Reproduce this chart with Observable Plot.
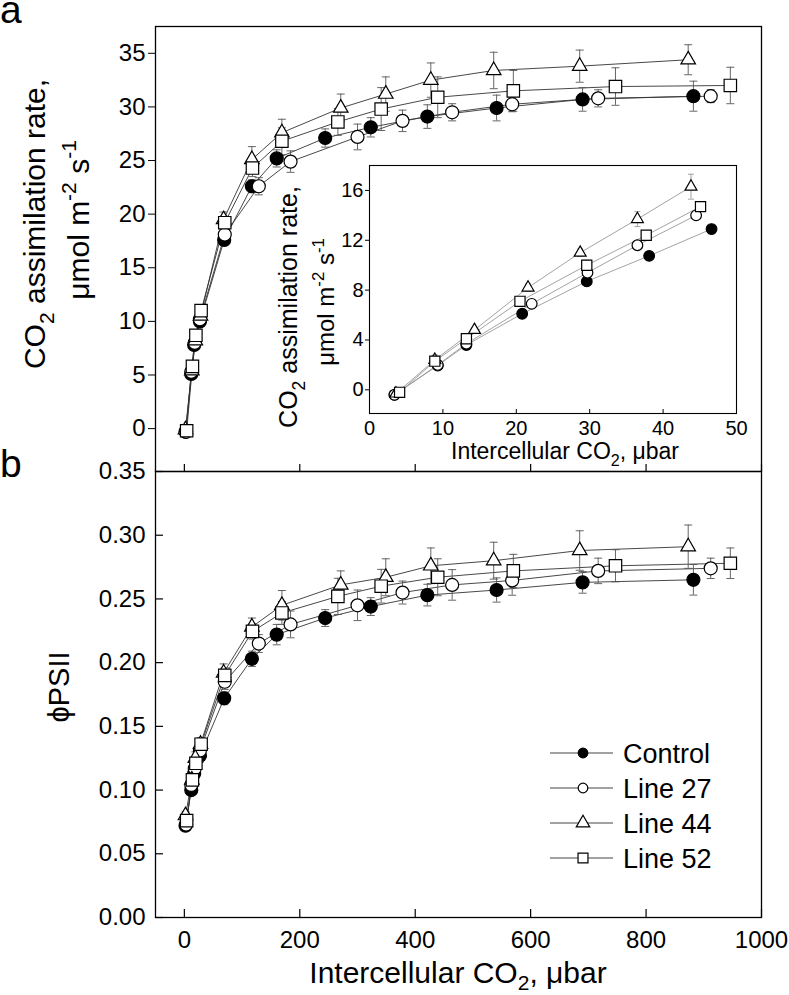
<!DOCTYPE html>
<html><head><meta charset="utf-8">
<script src="https://cdn.jsdelivr.net/npm/d3@7"></script>
<script src="https://cdn.jsdelivr.net/npm/@observablehq/plot@0.6"></script>
<style>
body{margin:0;background:white;}
#wrap{position:relative;width:789px;height:995px;overflow:hidden;background:white;font-family:"Liberation Sans",Arial,Helvetica,sans-serif;}
#wrap > svg{position:absolute;}
</style></head><body><div id="wrap"></div>
<script>
// ---------- data ----------
const seriesNames = ["Control", "Line 27", "Line 44", "Line 52"];

// main panels: intercellular CO2 (µbar)
const ciControl = [2, 12, 17, 27, 69, 117, 160, 244, 323, 421, 541, 690, 882];
const ciLine27  = [3, 12, 18, 27, 70, 129, 184, 300, 378, 464, 568, 717, 912];
const ciLine44  = [2, 13, 19, 28, 68, 117, 169, 271, 349, 427, 536, 685, 873];
const ciLine52  = [4, 14, 20, 29, 70, 118, 169, 266, 341, 439, 570, 747, 946];

// panel a: CO2 assimilation rate and SE
const aControl = [-0.3, 5.1, 7.8, 10.0, 17.6, 22.6, 25.2, 27.1, 28.1, 29.1, 29.9, 30.7, 31.0];
const aLine27  = [-0.3, 5.3, 8.0, 10.2, 18.1, 22.6, 24.9, 27.2, 28.7, 29.5, 30.25, 30.8, 31.0];
const aLine44  = [-0.1, 5.4, 8.2, 10.5, 19.5, 25.1, 27.6, 29.9, 31.2, 32.5, 33.4, 33.8, 34.4];
const aLine52  = [-0.2, 5.8, 8.7, 11.0, 19.2, 24.3, 26.8, 28.6, 29.8, 30.9, 31.5, 31.9, 32.0];
const aErrControl = [0.3, 0.3, 0.3, 0.4, 0.5, 0.6, 0.8, 0.85, 0.9, 1.1, 1.2, 1.1, 1.4];
const aErrLine27  = [0.3, 0.3, 0.3, 0.4, 0.6, 0.8, 1.0, 1.2, 1.0, 0.8, 0.7, 0.8, 0.6];
const aErrLine44  = [0.3, 0.4, 0.4, 0.5, 0.7, 1.2, 1.25, 1.3, 1.6, 1.6, 1.7, 1.5, 1.4];
const aErrLine52  = [0.3, 0.4, 0.4, 0.5, 0.6, 0.8, 1.25, 1.25, 2.0, 1.9, 1.9, 1.75, 1.7];

// panel b: phiPSII and SE
const phiControl = [0.072, 0.100, 0.113, 0.127, 0.172, 0.203, 0.222, 0.235, 0.244, 0.253, 0.257, 0.263, 0.265];
const phiLine27  = [0.073, 0.104, 0.117, 0.131, 0.185, 0.215, 0.230, 0.245, 0.255, 0.261, 0.2645, 0.272, 0.274];
const phiLine44  = [0.080, 0.108, 0.125, 0.136, 0.192, 0.228, 0.245, 0.261, 0.267, 0.276, 0.280, 0.288, 0.291];
const phiLine52  = [0.076, 0.108, 0.121, 0.136, 0.190, 0.2245, 0.239, 0.252, 0.260, 0.267, 0.272, 0.276, 0.278];
const phiErrControl = [0.003, 0.003, 0.004, 0.004, 0.005, 0.006, 0.008, 0.0066, 0.007, 0.0085, 0.0095, 0.0085, 0.012];
const phiErrLine27  = [0.003, 0.004, 0.004, 0.005, 0.006, 0.007, 0.0105, 0.012, 0.009, 0.012, 0.0116, 0.010, 0.008];
const phiErrLine44  = [0.003, 0.004, 0.005, 0.005, 0.007, 0.007, 0.0116, 0.011, 0.0145, 0.014, 0.0145, 0.0155, 0.017];
const phiErrLine52  = [0.003, 0.004, 0.004, 0.005, 0.006, 0.006, 0.009, 0.0142, 0.0132, 0.0145, 0.013, 0.0126, 0.012];

// inset: low-CO2 region
const insetCiControl = [3.4, 9.3, 13.2, 20.8, 29.6, 38.1, 46.6];
const insetCiLine27  = [3.4, 9.3, 13.2, 22.1, 29.7, 36.5, 44.5];
const insetCiLine44  = [3.6, 8.9, 14.3, 21.6, 28.7, 36.5, 43.8];
const insetCiLine52  = [4.1, 8.9, 13.2, 20.5, 29.6, 37.7, 45.1];
const insetAControl = [-0.4, 1.95, 3.6, 6.1, 8.7, 10.75, 12.9];
const insetALine27  = [-0.4, 2.0, 3.7, 6.9, 9.4, 11.6, 14.0];
const insetALine44  = [-0.3, 2.4, 4.8, 8.2, 11.0, 13.7, 16.3];
const insetALine52  = [-0.2, 2.3, 4.1, 7.1, 10.0, 12.4, 14.7];
const insetErrControl = [0.2, 0.2, 0.2, 0.3, 0.3, 0.3, 0.4];
const insetErrLine27  = [0.2, 0.2, 0.2, 0.3, 0.3, 0.3, 0.3];
const insetErrLine44  = [0.2, 0.4, 0.2, 0.3, 0.3, 0.6, 1.0];
const insetErrLine52  = [0.2, 0.3, 0.3, 0.3, 0.4, 0.3, 0.3];

// tick values
const xTicks = [0, 200, 400, 600, 800, 1000];
const aTicks = [0, 5, 10, 15, 20, 25, 30, 35];
const phiTicks = [0, 0.05, 0.10, 0.15, 0.20, 0.25, 0.30, 0.35];
const insetXTicks = [0, 10, 20, 30, 40, 50];
const insetYTicks = [0, 4, 8, 12, 16];

// ---------- build tables ----------
const mainCols = [
  [ciControl, aControl, aErrControl, phiControl, phiErrControl],
  [ciLine27, aLine27, aErrLine27, phiLine27, phiErrLine27],
  [ciLine44, aLine44, aErrLine44, phiLine44, phiErrLine44],
  [ciLine52, aLine52, aErrLine52, phiLine52, phiErrLine52]
];
const mainRows = seriesNames.flatMap((s, i) => {
  const [ci, a, ae, p, pe] = mainCols[i];
  return ci.map((x, j) => ({series: s, x, a: a[j], aErr: ae[j], phi: p[j], phiErr: pe[j]}));
});
const insetCols = [
  [insetCiControl, insetAControl, insetErrControl],
  [insetCiLine27, insetALine27, insetErrLine27],
  [insetCiLine44, insetALine44, insetErrLine44],
  [insetCiLine52, insetALine52, insetErrLine52]
];
const insetRows = seriesNames.flatMap((s, i) => {
  const [ci, a, ae] = insetCols[i];
  return ci.map((x, j) => ({series: s, x, a: a[j], aErr: ae[j]}));
});

// ---------- styles ----------
const FONT = '"Liberation Sans", Arial, Helvetica, sans-serif';
const markerStyle = {
  "Control": {symbol: "circle", d3sym: d3.symbolCircle, fill: "black", r: 6.5},
  "Line 27": {symbol: "circle", d3sym: d3.symbolCircle, fill: "white", r: 6.5},
  "Line 44": {symbol: "triangle", d3sym: d3.symbolTriangle, fill: "white", r: 5.4},
  "Line 52": {symbol: "square", d3sym: d3.symbolSquare, fill: "white", r: 7}
};
const capSymbol = {draw(ctx, size) { const w = Math.sqrt(size / Math.PI); ctx.moveTo(-w, 0); ctx.lineTo(w, 0); }};

function seriesMarks(rows, yKey, eKey, o) {
  const marks = [
    Plot.line(rows, {x: "x", y: yKey, z: "series", stroke: o.lineColor, strokeWidth: o.lineWidth}),
    Plot.ruleX(rows, {x: "x", y1: d => d[yKey] - d[eKey], y2: d => d[yKey] + d[eKey], stroke: o.errColor, strokeWidth: 0.9}),
    Plot.dot(rows, {x: "x", y: d => d[yKey] + d[eKey], symbol: capSymbol, r: o.cap, stroke: o.errColor, fill: "none", strokeWidth: 0.9}),
    Plot.dot(rows, {x: "x", y: d => d[yKey] - d[eKey], symbol: capSymbol, r: o.cap, stroke: o.errColor, fill: "none", strokeWidth: 0.9})
  ];
  for (const s of seriesNames) {
    const m = markerStyle[s];
    marks.push(Plot.dot(rows.filter(d => d.series === s), {
      x: "x", y: yKey, symbol: m.symbol, fill: m.fill, r: m.r * o.scale, stroke: "black", strokeWidth: 1.2
    }));
  }
  return marks;
}

const baseStyle = {background: "transparent", overflow: "visible", fontFamily: FONT, color: "black"};
const wrap = document.getElementById("wrap");

// ---------- panel a ----------
const topPlotH = 471 - 26;
const topPlot = Plot.plot({
  width: 789, height: 471, marginLeft: 155, marginRight: 28, marginTop: 26, marginBottom: 0,
  style: baseStyle,
  x: {domain: [-50, 1000], axis: null, label: null},
  y: {domain: [-4, 37.5], label: null},
  marks: [
    Plot.frame({stroke: "black", strokeWidth: 1.3}),
    Plot.axisY(aTicks, {anchor: "left", tickSize: 7, tickPadding: 3, fontSize: 24, label: null, stroke: "black", fill: "black", tickFormat: d3.format("d")}),
    Plot.tickX(xTicks, {x: d => d, insetTop: topPlotH - 7, stroke: "black", strokeWidth: 1.2}),
    ...seriesMarks(mainRows, "a", "aErr", {lineColor: "#333", lineWidth: 0.9, errColor: "#555", cap: 4, scale: 1})
  ]
});
topPlot.style.left = "0px"; topPlot.style.top = "0px";
wrap.appendChild(topPlot);

// ---------- panel b ----------
const botTop = 441, botH = 554, botMT = 30, botMB = 78;
const botPlotH = botH - botMT - botMB;
const botPlotW = 789 - 155 - 28;
const botPlot = Plot.plot({
  width: 789, height: botH, marginLeft: 155, marginRight: 28, marginTop: botMT, marginBottom: botMB,
  style: baseStyle,
  x: {domain: [-50, 1000], label: null},
  y: {domain: [0, 0.35], label: null},
  marks: [
    Plot.frame({stroke: "black", strokeWidth: 1.3}),
    Plot.axisY(phiTicks, {anchor: "left", tickSize: 0, tickPadding: 10, tickFormat: d3.format(".2f"), fontSize: 24, label: null, fill: "black"}),
    Plot.tickY(phiTicks, {y: d => d, insetRight: botPlotW - 8, stroke: "black", strokeWidth: 1.2}),
    Plot.axisX(xTicks, {anchor: "bottom", tickSize: 0, tickPadding: 13, fontSize: 24, label: null, fill: "black", tickFormat: d3.format("d")}),
    Plot.tickX(xTicks, {x: d => d, insetTop: botPlotH - 8, stroke: "black", strokeWidth: 1.2}),
    ...seriesMarks(mainRows, "phi", "phiErr", {lineColor: "#333", lineWidth: 0.9, errColor: "#555", cap: 4, scale: 1})
  ]
});
botPlot.style.left = "0px"; botPlot.style.top = botTop + "px";
wrap.appendChild(botPlot);

// ---------- inset ----------
const inLeft = 260, inTop = 150, inML = 109, inMT = 15, inW = 367, inH = 248;
const insetPlot = Plot.plot({
  width: inML + inW + 20, height: inMT + inH + 40,
  marginLeft: inML, marginRight: 20, marginTop: inMT, marginBottom: 40,
  style: baseStyle,
  x: {domain: [0, 50], label: null},
  y: {domain: [-1.9, 18], label: null},
  marks: [
    Plot.frame({stroke: "black", strokeWidth: 1.1, fill: "white"}),
    Plot.axisY(insetYTicks, {anchor: "left", tickSize: 4, tickPadding: 2, fontSize: 20, label: null, stroke: "black", fill: "black", tickFormat: d3.format("d")}),
    Plot.axisX(insetXTicks, {anchor: "bottom", tickSize: 0, tickPadding: 7, fontSize: 20, label: null, fill: "black", tickFormat: d3.format("d")}),
    Plot.tickX(insetXTicks, {x: d => d, insetTop: inH - 4, stroke: "black"}),
    ...seriesMarks(insetRows, "a", "aErr", {lineColor: "#999", lineWidth: 0.9, errColor: "#999", cap: 3, scale: 0.82})
  ]
});
insetPlot.style.left = inLeft + "px"; insetPlot.style.top = inTop + "px";
wrap.appendChild(insetPlot);

// ---------- text overlay & legend ----------
const ov = d3.select(wrap).append("svg")
  .attr("width", 789).attr("height", 995)
  .style("left", "0px").style("top", "0px")
  .style("pointer-events", "none")
  .attr("font-family", FONT).attr("fill", "black");

function rich(x, y, parts, fs, rotate, subShift = 0.3) {
  const t = ov.append("text")
    .attr("transform", `translate(${x},${y})` + (rotate ? ` rotate(${rotate})` : ""))
    .attr("text-anchor", "middle").attr("font-size", fs);
  let shift = 0;
  for (const p of parts) {
    const target = p.sub ? subShift * fs : p.sup ? -0.42 * fs : 0;
    const ts = t.append("tspan").text(p.t).attr("dy", target - shift);
    if (p.sub || p.sup) ts.attr("font-size", fs * 0.7);
    shift = target;
  }
  return t;
}

// panel labels
ov.append("text").attr("x", 0).attr("y", 23).attr("font-size", 39).text("a");
ov.append("text").attr("x", 0).attr("y", 477).attr("font-size", 39).text("b");

// main y titles (panel a)
rich(45, 224, [{t: "CO"}, {t: "2", sub: true}, {t: " assimilation rate,"}], 30, -90);
rich(89, 220, [{t: "\u03bcmol m"}, {t: "-2", sup: true}, {t: " s"}, {t: "-1", sup: true}], 30, -90);
// panel b y title
rich(69, 687, [{t: "\u03d5PSII"}], 29, -90);
// main x title
rich(458, 983, [{t: "Intercellular CO"}, {t: "2", sub: true}, {t: ", \u03bcbar"}], 30, 0, 0.24);

// inset titles
rich(297, 307, [{t: "CO"}, {t: "2", sub: true}, {t: " assimilation rate,"}], 25, -90);
rich(334, 302, [{t: "\u03bcmol m"}, {t: "-2", sup: true}, {t: " s"}, {t: "-1", sup: true}], 24, -90);
rich(565, 459, [{t: "Intercellular CO"}, {t: "2", sub: true}, {t: ", \u03bcbar"}], 23, 0);

// legend
const legendR = {"Control": 4.8, "Line 27": 4.8, "Line 44": 5.0, "Line 52": 5.6};
seriesNames.forEach((s, i) => {
  const y = 753 + 35 * i;
  ov.append("line").attr("x1", 550).attr("x2", 613).attr("y1", y).attr("y2", y)
    .attr("stroke", "#444").attr("stroke-width", 1);
  const m = markerStyle[s];
  ov.append("path").attr("d", d3.symbol(m.d3sym, Math.PI * legendR[s] ** 2)())
    .attr("transform", `translate(583,${y})`)
    .attr("fill", m.fill).attr("stroke", "black").attr("stroke-width", 1.2);
  ov.append("text").attr("x", 623).attr("y", y + 9.5).attr("font-size", 27).text(s);
});
</script></body></html>
